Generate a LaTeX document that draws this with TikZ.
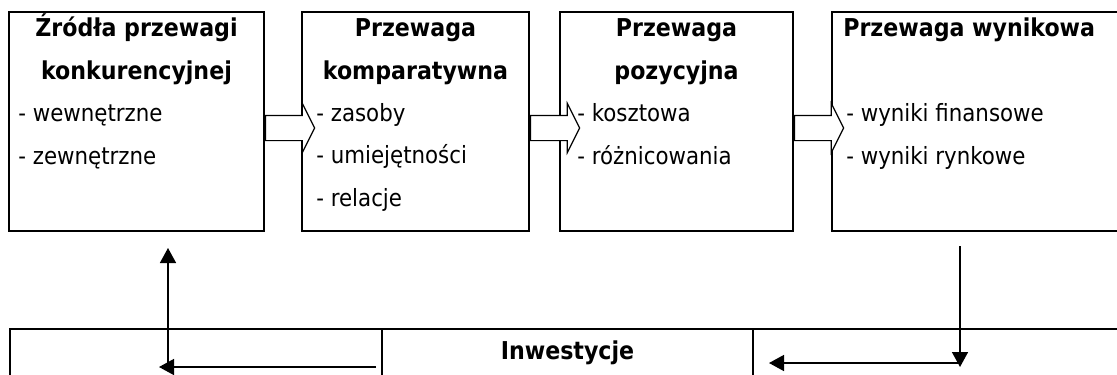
\documentclass[tikz,border=0pt]{standalone}
\usepackage{fontspec}
\setmainfont{DejaVu Sans Condensed}
\usepackage{tikz}
\usetikzlibrary{arrows.meta, positioning, fit, shapes.arrows}
\tikzset{
  box/.style={rectangle, draw, line width=1.1pt, inner sep=0pt},
  cell/.style={rectangle, draw, line width=0.75pt, inner sep=0pt},
  head/.style={inner sep=0pt, align=center, font=\fontsize{14}{24.2}\selectfont\bfseries},
  items/.style={inner sep=0pt, align=left, font=\fontsize{13.5}{24.2}\selectfont},
  barrow/.style={
    single arrow, draw, fill=white, line width=0.7pt, inner sep=0pt,
    text height=2.4mm, text depth=2.4mm, minimum height=9.8mm,
    single arrow head extend=2.4mm, single arrow tip angle=127
  },
  arr/.style={-{Triangle[length=3mm, width=3.2mm]}, line width=0.85pt},
}
\begin{document}
\begin{tikzpicture}[x=0.2mm, y=-0.2mm]
\useasboundingbox (0,0) rectangle (1117,374);
\clip (0,0) rectangle (1117,374);

% Four stages of advantage
\node[box, fit={(9,12) (264,231)}] (src) {};
\node[box, fit={(302,12) (529,231)}] (comp) {};
\node[box, fit={(560,12) (793,231)}] (pos) {};
\node[box, fit={(832,12) (1160,231)}] (res) {};

% Stage titles (base = last line)
\node[head, anchor=base] at (136.5,79) (srcT) {Źródła przewagi\\konkurencyjnej};
\node[head, anchor=base] at (415.5,79) (compT) {Przewaga\\komparatywna};
\node[head, anchor=base] at (676.5,79) (posT) {Przewaga\\pozycyjna};
\node[head, anchor=base west] at (843,36.5) (resT) {Przewaga wynikowa};

% Stage contents
\node[items, anchor=base west] at (18,164) (srcL) {- wewnętrzne\\- zewnętrzne};
\node[items, anchor=base west] at (316,206.5) (compL) {- zasoby\\- umiejętności\\- relacje};
\node[items, anchor=base west] at (577,164) (posL) {- kosztowa\\- różnicowania};
\node[items, anchor=base west] at (846,164) (resL) {- wyniki finansowe\\- wyniki rynkowe};

% Block arrows between stages
\node[barrow, anchor=tail] at (src.east |- 0,128) (a1) {};
\node[barrow, anchor=tail] at (comp.east |- 0,128) (a2) {};
\node[barrow, anchor=tail] at (pos.east |- 0,128) (a3) {};

% Investment row
\node[cell, fit={(10,329) (382,420)}] (inv1) {};
\node[cell, fit={(382,329) (753,420)}] (inv2) {};
\node[cell, fit={(753,329) (1200,420)}] (inv3) {};
\node[head, anchor=base] at (inv2.north |- 0,359) (invT) {Inwestycje};

% Feedback loop
\coordinate (outTop) at (960,246);
\coordinate (outBot) at (960,367);
\coordinate (outStart) at (960,363);
\coordinate (outTip) at (769,363);
\coordinate (backStart) at (376,367);
\coordinate (backTip) at (159,367);
\coordinate (upFoot) at (168,367);
\coordinate (upTip) at (168,248);
\draw[arr] (outTop) -- (outBot);
\draw[arr] (outStart) -- (outTip);
\draw[arr] (backStart) -- (backTip);
\draw[arr] (upFoot) -- (upTip);

\end{tikzpicture}
\end{document}
